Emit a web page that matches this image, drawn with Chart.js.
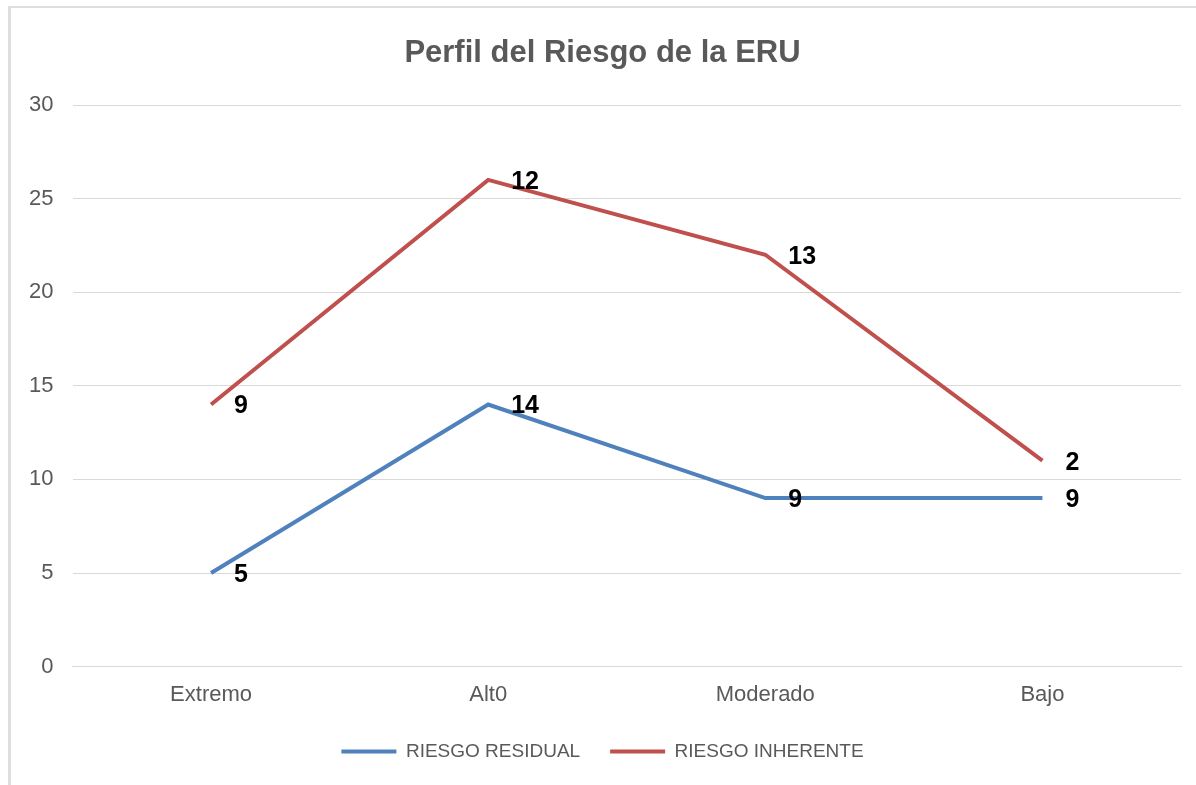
<!DOCTYPE html>
<html>
<head>
<meta charset="utf-8">
<title>Perfil del Riesgo de la ERU</title>
<script src="https://cdn.jsdelivr.net/npm/chart.js@4.4.0/dist/chart.umd.min.js"></script>
<style>
  body { margin: 0; background: #fff; }
  #wrap { position: relative; width: 1196px; height: 785px; }
  #frame {
    position: absolute; left: 8px; top: 6px; right: -4px; bottom: -4px;
    border-left: 3px solid #dedede; border-top: 2px solid #dedede;
    pointer-events: none;
  }
  canvas { position: absolute; left: 0; top: 0; }
</style>
</head>
<body>
<div id="wrap">
  <canvas id="riskChart" width="1196" height="785"></canvas>
  <div id="frame"></div>
</div>
<script>
// categorias del eje x
const categorias = ['Extremo', 'Alt0', 'Moderado', 'Bajo'];

// valores de cada serie
const riesgoResidual = [5, 14, 9, 9];
const riesgoInherente = [14, 26, 22, 11];

// etiquetas que se muestran junto a cada punto
const etiquetasResidual = ['5', '14', '9', '9'];
const etiquetasInherente = ['9', '12', '13', '2'];

// marcas del eje y
const ticksY = [0, 5, 10, 15, 20, 25, 30];

const gris = '#595959';
const fuente = "'Liberation Sans', Arial, sans-serif";

// dibuja las etiquetas de datos a la derecha de cada punto
const etiquetasPlugin = {
    id: 'etiquetas',
    afterDatasetsDraw(chart) {
        const ctx = chart.ctx;
        ctx.save();
        ctx.font = 'bold 25px ' + fuente;
        ctx.fillStyle = '#000';
        ctx.textAlign = 'left';
        ctx.textBaseline = 'middle';
        chart.data.datasets.forEach((ds, i) => {
            const meta = chart.getDatasetMeta(i);
            meta.data.forEach((pt, j) => {
                ctx.fillText(ds.etiquetas[j], pt.x + 23, pt.y + 2);
            });
        });
        ctx.restore();
    }
};

var ctx = document.getElementById('riskChart');
var riskChart = new Chart(ctx, {
    type: 'line',
    data: {
        labels: categorias,
        datasets: [{
            label: 'RIESGO RESIDUAL',
            data: riesgoResidual,
            etiquetas: etiquetasResidual,
            borderColor: '#4F81BD',
            backgroundColor: '#4F81BD',
            borderWidth: 4,
            pointRadius: 0,
            tension: 0
        }, {
            label: 'RIESGO INHERENTE',
            data: riesgoInherente,
            etiquetas: etiquetasInherente,
            borderColor: '#C0504D',
            backgroundColor: '#C0504D',
            borderWidth: 4,
            pointRadius: 0,
            tension: 0
        }]
    },
    options: {
        responsive: false,
        animation: false,
        layout: { padding: { left: 24, right: 15, top: 0, bottom: 14 } },
        plugins: {
            title: {
                display: true,
                text: 'Perfil del Riesgo de la ERU',
                color: gris,
                font: { family: fuente, size: 31, weight: 'bold' },
                padding: { top: 35, bottom: 32.8 }
            },
            legend: {
                position: 'bottom',
                labels: {
                    color: gris,
                    font: { family: fuente, size: 19 },
                    boxWidth: 55,
                    boxHeight: 4,
                    padding: 30,
                    generateLabels(chart) {
                        return chart.data.datasets.map((ds, i) => ({
                            text: ds.label,
                            fillStyle: ds.borderColor,
                            strokeStyle: ds.borderColor,
                            lineWidth: 0,
                            fontColor: gris,
                            datasetIndex: i
                        }));
                    }
                }
            },
            tooltip: { enabled: false }
        },
        scales: {
            x: {
                offset: true,
                // a bit less room under the axis so the plot reaches down like the excel one
                afterFit(scale) { scale.height = scale.height - 11; },
                grid: { display: false, drawTicks: false },
                border: { display: true, color: '#d9d9d9', width: 1 },
                ticks: { color: gris, font: { family: fuente, size: 22 }, padding: 15 }
            },
            y: {
                min: 0,
                max: 30,
                afterBuildTicks(scale) {
                    scale.ticks = ticksY.map(v => ({ value: v }));
                },
                afterFit(scale) { scale.width = 48.5; },
                grid: { color: '#d9d9d9', drawTicks: false },
                border: { display: false },
                ticks: { color: gris, font: { family: fuente, size: 22 }, padding: 19 }
            }
        }
    },
    plugins: [etiquetasPlugin]
});
</script>
</body>
</html>
